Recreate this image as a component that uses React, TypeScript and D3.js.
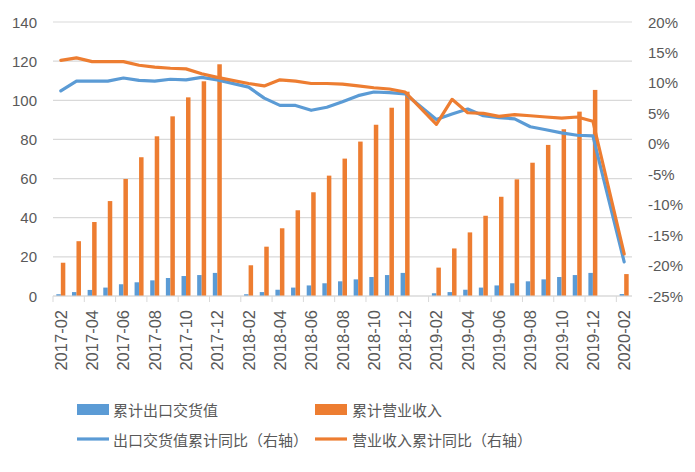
import React from 'react';
import * as d3 from 'd3';

const months: string[] = [
  '2017-02','2017-03','2017-04','2017-05','2017-06','2017-07','2017-08','2017-09','2017-10','2017-11','2017-12',
  '2018-01','2018-02','2018-03','2018-04','2018-05','2018-06','2018-07','2018-08','2018-09','2018-10','2018-11','2018-12',
  '2019-01','2019-02','2019-03','2019-04','2019-05','2019-06','2019-07','2019-08','2019-09','2019-10','2019-11','2019-12',
  '2020-01','2020-02'
];

const exportValue: (number | null)[] = [
  0.9, 2.0, 3.1, 4.3, 6.0, 7.0, 8.0, 9.2, 10.2, 10.7, 11.8,
  null,
  0.9, 2.0, 3.2, 4.3, 5.4, 6.5, 7.5, 8.5, 9.7, 10.7, 11.8,
  null,
  1.4, 2.0, 3.2, 4.3, 5.4, 6.5, 7.5, 8.5, 9.7, 10.7, 11.8,
  null,
  1.0
];

const revenue: (number | null)[] = [
  17, 28, 37.8, 48.5, 59.8, 70.9, 81.6, 91.8, 101.5, 109.7, 118.4,
  null,
  15.7, 25.2, 34.6, 43.8, 53, 61.5, 70.2, 78.9, 87.5, 96.2, 104.4,
  null,
  14.5, 24.3, 32.5, 41, 50.7, 59.6, 68.1, 77.2, 85.2, 94.2, 105.3,
  null,
  11.2
];

const exportYoY: (number | null)[] = [
  8.7, 10.3, 10.3, 10.3, 10.8, 10.4, 10.3, 10.6, 10.5, 10.9, 10.5,
  null,
  9.3, 7.5, 6.3, 6.3, 5.5, 6.0, 6.9, 7.9, 8.5, 8.4, 8.2,
  null,
  4.0, 4.9, 5.7, 4.6, 4.3, 4.1, 2.8, 2.3, 1.8, 1.4, 1.3,
  null,
  -19.4
];

const revenueYoY: (number | null)[] = [
  13.7, 14.1, 13.5, 13.5, 13.5, 12.9, 12.6, 12.4, 12.3, 11.5, 10.9,
  null,
  9.9, 9.5, 10.5, 10.3, 9.9, 9.9, 9.8, 9.5, 9.2, 9.0, 8.5,
  null,
  3.2, 7.3, 5.1, 5.0, 4.5, 4.8, 4.6, 4.4, 4.2, 4.4, 3.7,
  null,
  -18.1
];

const leftTicks: number[] = [0, 20, 40, 60, 80, 100, 120, 140];
const rightTicks: number[] = [20, 15, 10, 5, 0, -5, -10, -15, -20, -25];

const barNames: string[] = ['累计出口交货值', '累计营业收入'];
const lineNames: string[] = ['出口交货值累计同比（右轴）', '营业收入累计同比（右轴）'];

const BLUE = '#5B9BD5';
const ORANGE = '#ED7D31';
const GRID = '#D9D9D9';
const TEXT = '#595959';

export default function App() {
  const W = 695, H = 472;
  const left = 53, right = 632, top = 22, bottom = 296;

  const x = d3.scaleBand<string>().domain(months).range([left, right]).padding(0);
  const bw = x.bandwidth();
  const x1 = d3.scaleBand<string>().domain(['export', 'revenue']).range([0, bw]).paddingInner(0).paddingOuter(0.74);
  const yL = d3.scaleLinear().domain([0, 140]).range([bottom, top]);
  const yR = d3.scaleLinear().domain([-25, 20]).range([bottom, top]);

  const cx = (m: string) => (x(m) as number) + bw / 2;

  const mkLine = (vals: (number | null)[]) => {
    const pts = months.map((m, i) => [cx(m), vals[i]] as [number, number | null]).filter(p => p[1] !== null) as [number, number][];
    return d3.line<[number, number]>().x(p => p[0]).y(p => yR(p[1]))(pts) || '';
  };

  const tickIdx = d3.range(0, months.length, 2);

  const font = '"Liberation Sans", Arial, sans-serif';
  const cjk = '"Noto Sans CJK SC", "Noto Sans", sans-serif';

  return (
    <svg width={W} height={H} style={{ position: 'absolute', left: 0, top: 0, background: '#fff' }}>
      <rect x={0} y={0} width={W} height={H} fill="#fff" />
      {leftTicks.map(t => (
        <line key={'g' + t} x1={left} x2={right} y1={yL(t)} y2={yL(t)} stroke={GRID} strokeWidth={1.2} />
      ))}
      {tickIdx.map(i => (
        <line key={'tk' + i} x1={x(months[i]) as number} x2={x(months[i]) as number} y1={bottom} y2={bottom + 6} stroke={GRID} strokeWidth={1} />
      ))}
      {leftTicks.map(t => (
        <text key={'lt' + t} x={37} y={yL(t)} textAnchor="end" dominantBaseline="central" fontSize={15} fill={TEXT} fontFamily={font}>{t}</text>
      ))}
      {rightTicks.map(t => (
        <text key={'rt' + t} x={648} y={yR(t)} textAnchor="start" dominantBaseline="central" fontSize={15} fill={TEXT} fontFamily={font}>{t + '%'}</text>
      ))}
      {tickIdx.map(i => (
        <text key={'xl' + i} transform={`translate(${cx(months[i])},310) rotate(-90)`} textAnchor="end" dominantBaseline="central" fontSize={16.5} fill={TEXT} fontFamily={font}>{months[i]}</text>
      ))}
      {months.map((m, i) => exportValue[i] === null ? null : (
        <rect key={'be' + m} x={(x(m) as number) + (x1('export') as number)} width={x1.bandwidth()} y={yL(exportValue[i] as number)} height={bottom - yL(exportValue[i] as number)} fill={BLUE} />
      ))}
      {months.map((m, i) => revenue[i] === null ? null : (
        <rect key={'br' + m} x={(x(m) as number) + (x1('revenue') as number)} width={x1.bandwidth()} y={yL(revenue[i] as number)} height={bottom - yL(revenue[i] as number)} fill={ORANGE} />
      ))}
      <line x1={left} x2={right} y1={bottom} y2={bottom} stroke={GRID} strokeWidth={1.2} />
      <path d={mkLine(exportYoY)} fill="none" stroke={BLUE} strokeWidth={3.2} strokeLinejoin="round" strokeLinecap="round" />
      <path d={mkLine(revenueYoY)} fill="none" stroke={ORANGE} strokeWidth={3.2} strokeLinejoin="round" strokeLinecap="round" />

      <rect x={77} y={404} width={32} height={11} fill={BLUE} />
      <text x={113} y={409} dominantBaseline="central" fontSize={15} fill={TEXT} fontFamily={cjk}>{barNames[0]}</text>
      <rect x={315} y={404} width={32} height={11} fill={ORANGE} />
      <text x={352} y={409} dominantBaseline="central" fontSize={15} fill={TEXT} fontFamily={cjk}>{barNames[1]}</text>
      <line x1={77} x2={109} y1={439} y2={439} stroke={BLUE} strokeWidth={3.2} />
      <text x={113} y={439} dominantBaseline="central" fontSize={15} fill={TEXT} fontFamily={cjk}>{lineNames[0]}</text>
      <line x1={315} x2={347} y1={439} y2={439} stroke={ORANGE} strokeWidth={3.2} />
      <text x={352} y={439} dominantBaseline="central" fontSize={15} fill={TEXT} fontFamily={cjk}>{lineNames[1]}</text>
    </svg>
  );
}
